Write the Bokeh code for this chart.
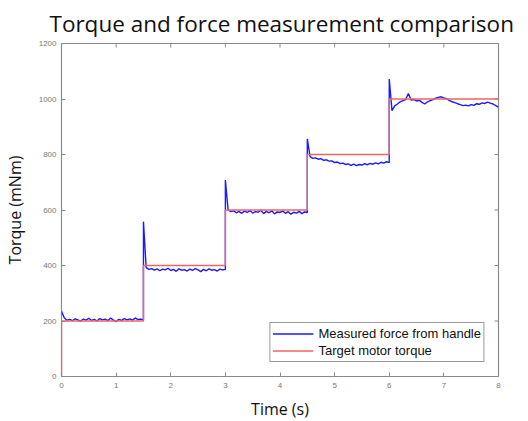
import math
from bokeh.plotting import figure
from bokeh.models import Range1d, FixedTicker, Legend, LegendItem
from bokeh.embed import file_html
from bokeh.resources import INLINE

# ---- data ----
x_ticks = [0, 1, 2, 3, 4, 5, 6, 7, 8]
y_ticks = [0, 200, 400, 600, 800, 1000, 1200]

# target motor torque: step times and levels
step_times = [0.0, 1.5, 3.0, 4.5, 6.0, 8.0]
target_levels = [200, 400, 600, 800, 1000]

# transient spikes of the measured signal at each step
spike_times = [1.5, 3.0, 4.5, 6.0]
spike_peaks = [558, 708, 856, 1072]

# measured force from handle, sampled every 0.05 s from 0 to 8 s
sample_dt = 0.05
measured_seg1 = [235, 212, 203, 206, 201, 208, 204, 199, 207, 203,
                 210, 202, 206, 200, 209, 204, 207, 201, 211, 203,
                 198, 206, 202, 209, 204, 208, 203, 211, 205, 207, 204]
measured_seg2 = [392, 386, 389, 383, 388, 381, 387, 384, 390, 382,
                 386, 379, 388, 383, 385, 380, 387, 382, 389, 384,
                 378, 386, 381, 388, 383, 385, 380, 387, 384, 386]
measured_seg3 = [600, 594, 597, 590, 595, 588, 596, 591, 598, 589,
                 594, 592, 599, 587, 595, 590, 597, 586, 593, 591,
                 596, 588, 594, 585, 592, 589, 595, 587, 593, 591]
measured_seg4 = [792, 786, 788, 783, 785, 779, 781, 776, 777, 771,
                 773, 767, 769, 764, 766, 761, 765, 760, 764, 762,
                 767, 763, 768, 765, 770, 766, 772, 769, 774, 771]
measured_seg5 = [958, 975, 982, 990, 994, 998, 1020, 996, 998, 993,
                 995, 988, 982, 990, 994, 998, 1003, 1006, 1008, 1004,
                 1001, 995, 990, 987, 983, 980, 976, 978, 975, 980,
                 977, 983, 981, 986, 984, 989, 985, 982, 976, 971]
measured = measured_seg1 + measured_seg2 + measured_seg3 + measured_seg4 + measured_seg5

# ---- build paths ----
mx, my = [], []
for i, v in enumerate(measured):
    t = round(i * sample_dt, 4)
    mx.append(t)
    my.append(v)
    for st, pk in zip(spike_times, spike_peaks):
        if abs(t - st) < 1e-9:
            mx.append(t)
            my.append(pk)

tx, ty = [step_times[0]], [0]
for k, lvl in enumerate(target_levels):
    tx += [step_times[k], step_times[k + 1]]
    ty += [lvl, lvl]

x_min, x_max = x_ticks[0], x_ticks[-1]
y_min, y_max = y_ticks[0], y_ticks[-1]

# ---- figure ----
p = figure(frame_width=437, frame_height=333,
           x_range=Range1d(x_min, x_max), y_range=Range1d(y_min, y_max),
           output_backend="svg", toolbar_location=None,
           min_border_left=57, min_border_right=19, min_border_top=34, min_border_bottom=10)
p.xgrid.visible = False
p.ygrid.visible = False
p.outline_line_color = "#8a8a8a"
p.outline_line_width = 1.2
p.background_fill_color = "white"
p.border_fill_color = "white"

p.title.text = "Torque and force measurement comparison"
p.title.text_font = "Open Sans"
p.title.text_font_size = "22.5px"
p.title.text_font_style = "normal"
p.title.align = "left"
p.title.text_color = "#111111"
p.title.offset = -12

tick_font = "Liberation Sans"
for ax in [p.xaxis[0], p.yaxis[0]]:
    ax.axis_line_color = None
    ax.major_tick_in = 4
    ax.major_tick_out = 0
    ax.major_tick_line_color = "#8a8a8a"
    ax.minor_tick_line_color = None
    ax.major_label_text_font = tick_font
    ax.major_label_text_font_size = "8px"
    ax.major_label_text_color = "#777777"
    ax.axis_label_text_font = "Open Sans"
    ax.axis_label_text_font_size = "16px"
    ax.axis_label_text_font_style = "normal"
    ax.axis_label_text_color = "#111111"

p.xaxis.ticker = FixedTicker(ticks=x_ticks)
p.yaxis.ticker = FixedTicker(ticks=y_ticks)
p.xaxis.axis_label = "Time (s)"
p.yaxis.axis_label = "Torque (mNm)"
p.xaxis.major_label_standoff = 6
p.yaxis.major_label_standoff = 5
p.xaxis.axis_label_standoff = 7
p.yaxis.axis_label_standoff = 10

# inward tick marks on the top and right edges of the box (clipped to the frame)
p.scatter(x_ticks[1:-1], [y_max] * (len(x_ticks) - 2), marker="dash", size=8,
          angle=math.pi / 2, line_color="#8a8a8a", line_width=1)
p.scatter([x_max] * (len(y_ticks) - 2), y_ticks[1:-1], marker="dash", size=8,
          line_color="#8a8a8a", line_width=1)

r_meas = p.line(mx, my, line_color="#1a1aff", line_width=1.4)
r_tgt = p.line(tx, ty, line_color="#f06464", line_width=1.4)

legend = Legend(items=[LegendItem(label="Measured force from handle", renderers=[r_meas]),
                       LegendItem(label="Target motor torque", renderers=[r_tgt])],
                location="bottom_right", margin=14, padding=2, spacing=0,
                glyph_width=41, glyph_height=17, label_height=17, label_standoff=5,
                label_text_font="Liberation Sans", label_text_font_size="13px",
                label_text_color="#111111", border_line_color="#333333",
                border_line_width=1, background_fill_color="white", background_fill_alpha=1)
p.add_layout(legend, "center")

open("out.html", "w").write(file_html(p, INLINE))
